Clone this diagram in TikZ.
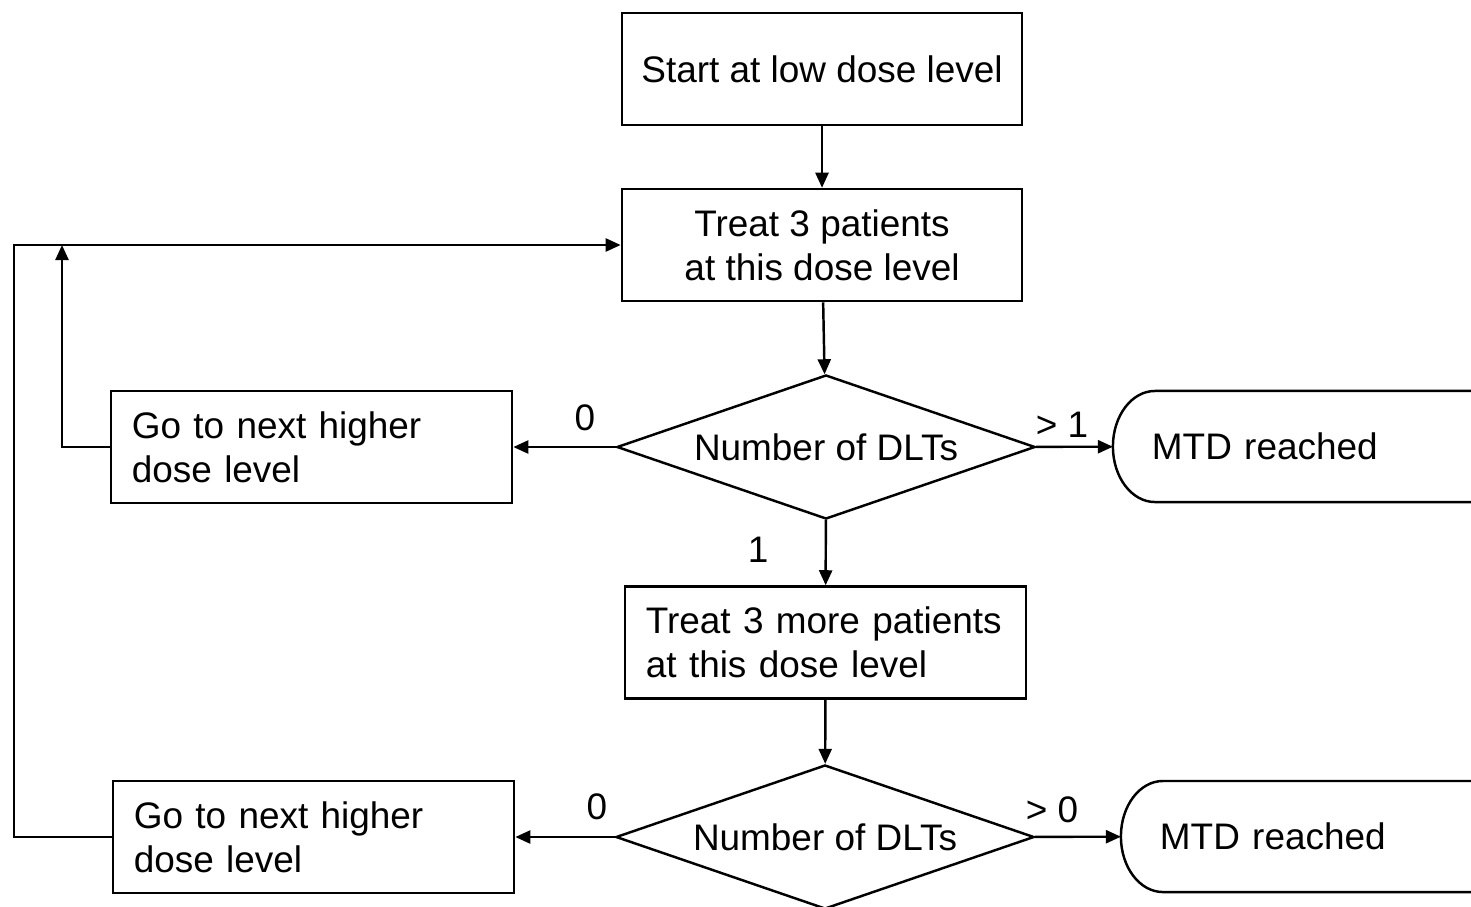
\documentclass[tikz,border=0pt]{standalone}
\usepackage{fontspec}
\setmainfont{Liberation Sans}
\usetikzlibrary{shapes.geometric,arrows.meta}
\def\centreBoxes{{(822, 69)/start/Start at low dose level}, {(822, 245)/treat/Treat 3 patients\\at this dose level}}
\def\leftBoxes{{(311.5, 447)/higherA/Go to next higher\\dose level}, {(825.5, 642.5)/treatMore/Treat 3 more patients\\at this dose level}, {(313.5, 837)/higherB/Go to next higher\\dose level}}
\def\decisions{{(826, 447)/dltA}, {(825, 837)/dltB}}
\def\terminals{{(1313, 446.5)/mtdA}, {(1321, 836.5)/mtdB}}
\def\branchLabels{{(585, 418)/lblAzero/0}, {(1062, 425)/lblAmore/> 1}, {(758, 550)/lblAone/1}, {(597, 807)/lblBzero/0}, {(1052, 810)/lblBmore/> 0}}
\def\connect{start/treat, treat/dltA, dltA/higherA, dltA/mtdA, dltA/treatMore, treatMore/dltB, dltB/higherB, dltB/mtdB}
\tikzstyle{txt}=[font=\fontsize{10.5}{12.5}\selectfont]
\tikzstyle{box}=[draw, txt, line width=0.7pt, minimum width=4cm, minimum height=1.12cm, inner sep=0pt]
\tikzstyle{centre box}=[box, align=center]
\tikzstyle{left box}=[box, text width=3.59cm, inner xsep=0.21cm, align=left]
\tikzstyle{decision}=[diamond, draw, txt, line width=0.7pt, shape aspect=2.9, minimum width=4.18cm, minimum height=1.44cm, inner sep=0pt]
\tikzstyle{terminal}=[txt, text width=3.22cm, inner xsep=0.39cm, inner ysep=0pt, outer sep=0pt, minimum height=1.11cm, align=left]
\tikzstyle{outline}=[draw, line width=0.7pt]
\tikzstyle{flow}=[draw, line width=0.7pt, -{Triangle[length=0.15cm,width=0.13cm]}]

\begin{document}
\begin{tikzpicture}[x=0.01cm, y=-0.01cm]
  \clip (0, 0) rectangle (1471, 906);

  % The plain steps
  \foreach \pos/\name/\text in \centreBoxes {
    \node[centre box] (\name) at \pos {\text};
    }
  \foreach \pos/\name/\text in \leftBoxes {
    \node[left box] (\name) at \pos {\text};
    }

  % Decisions and the end points
  \foreach \pos/\name in \decisions {
    \node[decision] (\name) at \pos {Number of DLTs};
    }
  \foreach \pos/\name in \terminals {
    \node[terminal] (\name) at \pos {MTD reached};
    \path[outline] ([shift={(2cm,0.555cm)}]\name.center) -- ([shift={(-1.58cm,0.555cm)}]\name.center)
      arc[start angle=90, end angle=270, x radius=0.42cm, y radius=0.555cm]
      -- ([shift={(2cm,-0.555cm)}]\name.center);
    }

  % Counts on the branches
  \foreach \pos/\name/\text in \branchLabels {
    \node[txt] (\name) at \pos {\text};
    }

  \coordinate (loopA) at (62, 245);
  \coordinate (loopB) at (14, 245);

  % The main flow
  \foreach \source/\sink in \connect {
    \path[flow] (\source) -- (\sink);
    }

  % Back to the top
  \path[flow] (higherA.west) -| (loopA);
  \path[flow] (higherB.west) -| (loopB) -- (treat.west);
\end{tikzpicture}
\end{document}
